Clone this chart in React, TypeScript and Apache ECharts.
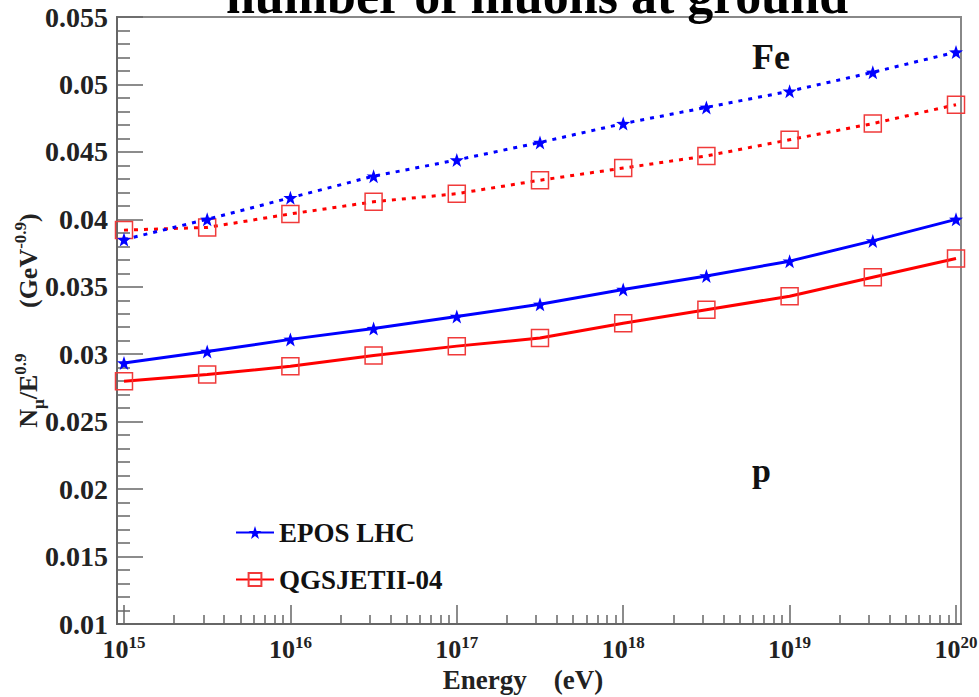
import React, { useEffect, useRef } from "react";
import * as echarts from "echarts";

// log10(Energy / eV)
const energyExp = [15, 15.5, 16, 16.5, 17, 17.5, 18, 18.5, 19, 19.5, 20];
const eposFe = [0.0385, 0.04, 0.0416, 0.0432, 0.0444, 0.0457, 0.0471, 0.0483, 0.0495, 0.0509, 0.0524];
const qgsFe = [0.0392, 0.0394, 0.0404, 0.0413, 0.0419, 0.0429, 0.0438, 0.0447, 0.0459, 0.0471, 0.0485];
const eposP = [0.02935, 0.0302, 0.0311, 0.0319, 0.0328, 0.0337, 0.0348, 0.0358, 0.0369, 0.0384, 0.04];
const qgsP = [0.028, 0.0285, 0.0291, 0.0299, 0.0306, 0.0312, 0.0323, 0.0333, 0.0343, 0.0357, 0.0371];
const decadeTicks = [15, 16, 17, 18, 19, 20];
const minorMultipliers = [2, 3, 4, 5, 6, 7, 8, 9];
const legendNames = ["EPOS LHC", "QGSJETII-04"];

const FONT = "'Liberation Serif', 'DejaVu Serif', serif";
const BLUE = "#0000ff";
const RED = "#ff0000";
const STAR =
  "path://M0,-10 L2.35,-3.24 L9.51,-3.09 L3.8,1.24 L5.88,8.09 L0,4 L-5.88,8.09 L-3.8,1.24 L-9.51,-3.09 L-2.35,-3.24 Z";

const pairs = (ys: number[]) => energyExp.map((x, i) => [x, ys[i]]);

export default function App() {
  const ref = useRef<HTMLDivElement>(null);
  useEffect(() => {
    document.body.style.margin = "0";
    if (!ref.current) return;
    const chart = echarts.init(ref.current, undefined, { renderer: "svg" });
    const minorTicks: number[] = [];
    for (let d = 15; d < 20; d++) minorMultipliers.forEach((m) => minorTicks.push(d + Math.log10(m)));
    const xMin = 14.958;
    const xMax = 20.03;
    const axisColor = "#666";

    const starSeries = (name: string, data: number[], dotted: boolean) => ({
      name,
      type: "line",
      data: pairs(data),
      symbol: STAR,
      symbolSize: 14,
      showAllSymbol: true,
      itemStyle: { color: BLUE },
      lineStyle: { color: BLUE, width: 3, type: dotted ? [4, 6] : "solid" },
      z: 3,
    });
    const squareSeries = (name: string, data: number[], dotted: boolean) => ({
      name,
      type: "line",
      data: pairs(data),
      symbol: "rect",
      symbolSize: 17,
      showAllSymbol: true,
      itemStyle: { color: "rgba(255,255,255,0)", borderColor: "#f03a3a", borderWidth: 1.5 },
      lineStyle: { color: RED, width: 3, type: dotted ? [4, 6] : "solid" },
      z: 2,
    });

    chart.setOption({
      animation: false,
      backgroundColor: "#fff",
      grid: {
        left: 117,
        right: 18,
        top: 17,
        bottom: 73,
        show: true,
        borderColor: "#888",
        borderWidth: 2,
        containLabel: false,
        outerBoundsMode: "none",
      },
      graphic: [
        {
          type: "text",
          x: 537,
          y: -5,
          z: 10,
          style: {
            text: "number of muons at ground",
            align: "center",
            verticalAlign: "middle",
            font: `bold 52px ${FONT}`,
            fill: "#000",
          },
        },
        {
          type: "text",
          x: 752,
          y: 57,
          style: { text: "Fe", font: `bold 36px ${FONT}`, fill: "#111", verticalAlign: "middle" },
        },
        {
          type: "text",
          x: 752,
          y: 470,
          style: { text: "p", font: `bold 34px ${FONT}`, fill: "#111", verticalAlign: "middle" },
        },
      ],
      legend: {
        data: legendNames,
        orient: "vertical",
        left: 230,
        top: 514,
        itemWidth: 38,
        itemHeight: 16,
        itemGap: 20,
        textStyle: { fontFamily: FONT, fontWeight: "bold", fontSize: 27, color: "#111" },
      },
      xAxis: [
        {
          type: "value",
          min: xMin,
          max: xMax,
          position: "bottom",
          name: "Energy    (eV)",
          nameLocation: "middle",
          nameGap: 42,
          nameTextStyle: {
            fontFamily: FONT,
            fontWeight: "bold",
            fontSize: 27,
            color: "#222",
            padding: [0, 32, 0, 0],
          },
          axisLine: { show: true, lineStyle: { color: axisColor, width: 2 } },
          axisTick: {
            show: true,
            inside: true,
            length: 19,
            customValues: decadeTicks,
            lineStyle: { color: axisColor, width: 1.5 },
          },
          axisLabel: {
            customValues: decadeTicks,
            margin: 10,
            formatter: (v: number) => `{b|10}{s|${Math.round(v)}}`,
            rich: {
              b: { fontFamily: FONT, fontWeight: "bold", fontSize: 26, color: "#222", verticalAlign: "bottom" },
              s: {
                fontFamily: FONT,
                fontWeight: "bold",
                fontSize: 17,
                color: "#222",
                verticalAlign: "bottom",
                padding: [0, 0, 11, 0],
              },
            },
          },
          splitLine: { show: false },
        },
        {
          type: "value",
          min: xMin,
          max: xMax,
          position: "bottom",
          axisLine: { show: false },
          axisLabel: { show: false },
          axisTick: {
            show: true,
            inside: true,
            length: 9,
            customValues: minorTicks,
            lineStyle: { color: axisColor, width: 1.5 },
          },
          splitLine: { show: false },
        },
      ],
      yAxis: {
        type: "value",
        min: 0.01,
        max: 0.055,
        interval: 0.005,
        name: "{b|N}{sub|μ}{b|/E}{sup|0.9}{b|       (GeV}{sup|-0.9}{b|)}",
        nameLocation: "middle",
        nameGap: 76,
        nameMoveOverlap: false,
        nameRotate: 90,
        nameTextStyle: {
          rich: {
            b: { fontFamily: FONT, fontWeight: "bold", fontSize: 26, color: "#222", verticalAlign: "bottom" },
            sup: {
              fontFamily: FONT,
              fontWeight: "bold",
              fontSize: 17,
              color: "#222",
              verticalAlign: "bottom",
              padding: [0, 0, 12, 0],
            },
            sub: {
              fontFamily: FONT,
              fontWeight: "bold",
              fontSize: 17,
              color: "#222",
              verticalAlign: "bottom",
              padding: [0, 0, -6, 0],
            },
          },
        },
        axisLine: { show: true, lineStyle: { color: axisColor, width: 2 } },
        axisTick: { show: true, inside: true, length: 26, lineStyle: { color: axisColor, width: 1.5 } },
        minorTick: { show: true, splitNumber: 5, length: 13, lineStyle: { color: axisColor, width: 1.5 } },
        axisLabel: {
          interval: 0,
          margin: 9,
          fontFamily: FONT,
          fontWeight: "bold",
          fontSize: 28,
          color: "#222",
          formatter: (v: number) => String(+v.toFixed(4)),
        },
        splitLine: { show: false },
      },
      series: [
        starSeries("EPOS LHC", eposP, false),
        squareSeries("QGSJETII-04", qgsP, false),
        starSeries("EPOS LHC Fe", eposFe, true),
        squareSeries("QGSJETII-04 Fe", qgsFe, true),
      ],
    });
    return () => chart.dispose();
  }, []);
  return <div ref={ref} style={{ width: 979, height: 697 }} />;
}
